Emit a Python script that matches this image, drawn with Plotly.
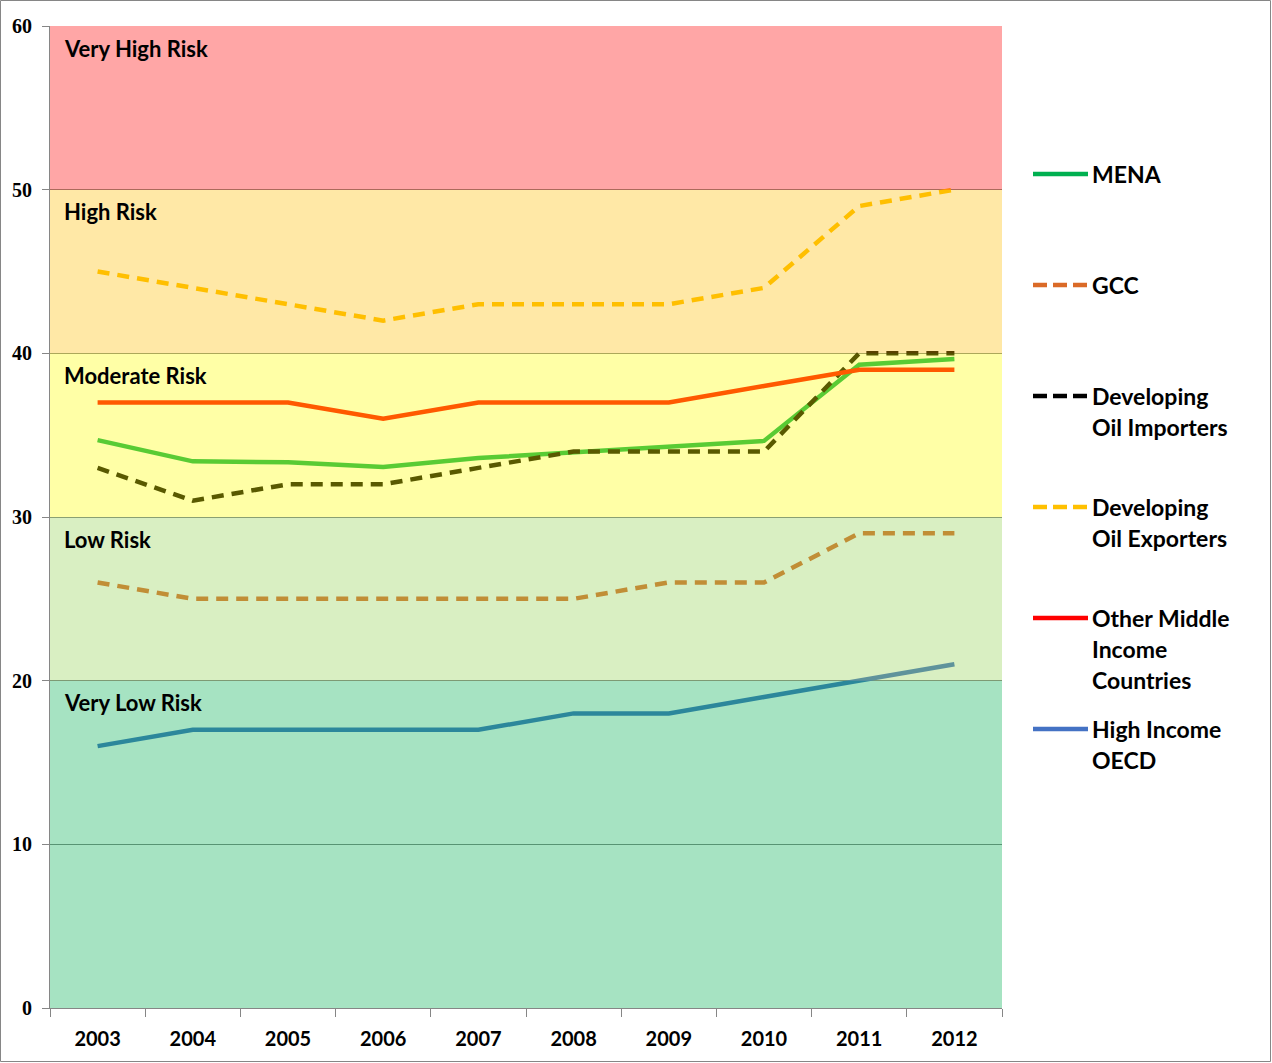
import plotly.graph_objects as go

years = ["2003", "2004", "2005", "2006", "2007", "2008", "2009", "2010", "2011", "2012"]

mena = [34.7, 33.4, 33.35, 33.05, 33.6, 33.95, 34.3, 34.65, 39.3, 39.65]
gcc = [26, 25, 25, 25, 25, 25, 26, 26, 29, 29]
dev_oil_importers = [33, 31, 32, 32, 33, 34, 34, 34, 40, 40]
dev_oil_exporters = [45, 44, 43, 42, 43, 43, 43, 44, 49, 50]
other_middle_income = [37, 37, 37, 36, 37, 37, 37, 38, 39, 39]
high_income_oecd = [16, 17, 17, 17, 17, 18, 18, 19, 20, 21]

series_names = ["MENA", "GCC", "Developing Oil Importers", "Developing Oil Exporters",
                "Other Middle Income Countries", "High Income OECD"]
legend_lines = [["MENA"], ["GCC"], ["Developing", "Oil Importers"],
                ["Developing", "Oil Exporters"], ["Other Middle", "Income", "Countries"],
                ["High Income", "OECD"]]
series_values = [mena, gcc, dev_oil_importers, dev_oil_exporters, other_middle_income, high_income_oecd]
series_colors = ["#00B050", "#DA6A28", "#000000", "#FFC000", "#FF0000", "#4472C4"]
series_dash = ["solid", "12px,8px", "12px,8px", "12px,8px", "solid", "solid"]

bands = [(50, 60, "Very High Risk", "255,0,0"),
         (40, 50, "High Risk", "255,189,0"),
         (30, 40, "Moderate Risk", "255,255,0"),
         (20, 30, "Low Risk", "146,208,80"),
         (0, 20, "Very Low Risk", "0,176,80")]

y_ticks = [0, 10, 20, 30, 40, 50, 60]

# layout geometry (pixels)
W, H = 1272, 1063
L, R, T, B = 50, 270, 26, 55
PW, PH = W - L - R, H - T - B


def px_x(px):
    return (px - L) / PW


def px_y(py):
    return (H - B - py) / PH


fig = go.Figure()
for name, vals, col, dash in zip(series_names, series_values, series_colors, series_dash):
    fig.add_trace(go.Scatter(x=years, y=vals, mode="lines", name=name,
                             line=dict(color=col, width=4.5, dash=dash),
                             showlegend=False, hoverinfo="x+y+name"))

shapes = []
annotations = []
for lo, hi, label, rgb in bands:
    shapes.append(dict(type="rect", xref="paper", yref="y", x0=0, x1=1, y0=lo, y1=hi,
                       fillcolor=f"rgba({rgb},0.35)", line=dict(width=0), layer="above"))
    annotations.append(dict(xref="paper", yref="y", x=px_x(62), y=hi - 1.35, text=label,
                            showarrow=False, xanchor="left", yanchor="middle",
                            font=dict(family="Lato", size=22, color="black", weight="bold")))

# manual legend
leg_y0 = 174
leg_step = 111
line_step = 31
for i, (lines, col, dash) in enumerate(zip(legend_lines, series_colors, series_dash)):
    yy = leg_y0 + i * leg_step
    shapes.append(dict(type="line", xref="paper", yref="paper",
                       x0=px_x(1033), x1=px_x(1088), y0=px_y(yy), y1=px_y(yy),
                       line=dict(color=col, width=4.5,
                                 dash="14px,6px" if dash != "solid" else "solid")))
    for j, t in enumerate(lines):
        annotations.append(dict(xref="paper", yref="paper", x=px_x(1090), y=px_y(yy + j * line_step),
                                text=t, showarrow=False, xanchor="left", yanchor="middle",
                                font=dict(family="Lato", size=23, color="black", weight="bold")))

# outer border
shapes.append(dict(type="rect", xref="paper", yref="paper",
                   x0=px_x(0.5), x1=px_x(W - 1.5), y0=px_y(H - 1.5), y1=px_y(0.5),
                   line=dict(color="#868686", width=1), fillcolor="rgba(0,0,0,0)", layer="above"))

fig.update_layout(
    width=W, height=H,
    margin=dict(l=L, r=R, t=T, b=B),
    paper_bgcolor="white", plot_bgcolor="white",
    shapes=shapes, annotations=annotations,
    showlegend=False,
    xaxis=dict(type="category", tickson="boundaries", ticks="outside", ticklen=8,
               tickcolor="#868686", showgrid=False, showline=True, linecolor="#868686",
               linewidth=1, tickfont=dict(family="Lato", size=20, color="black", weight="bold"),
               ticklabelstandoff=13, range=[-0.5, 9.5], fixedrange=True),
    yaxis=dict(range=[0, 60], tickvals=y_ticks, ticks="outside", ticklen=7, tickcolor="#868686",
               showgrid=True, gridcolor="#868686", gridwidth=1, showline=True, linecolor="#868686",
               linewidth=1, zeroline=False, ticklabelstandoff=6,
               tickfont=dict(family="Liberation Serif", size=20, color="black", weight="bold"),
               fixedrange=True),
)

fig.write_html("out.html", config={"displayModeBar": False},
               post_script="document.body.style.margin='0px';document.body.style.overflow='hidden';")
